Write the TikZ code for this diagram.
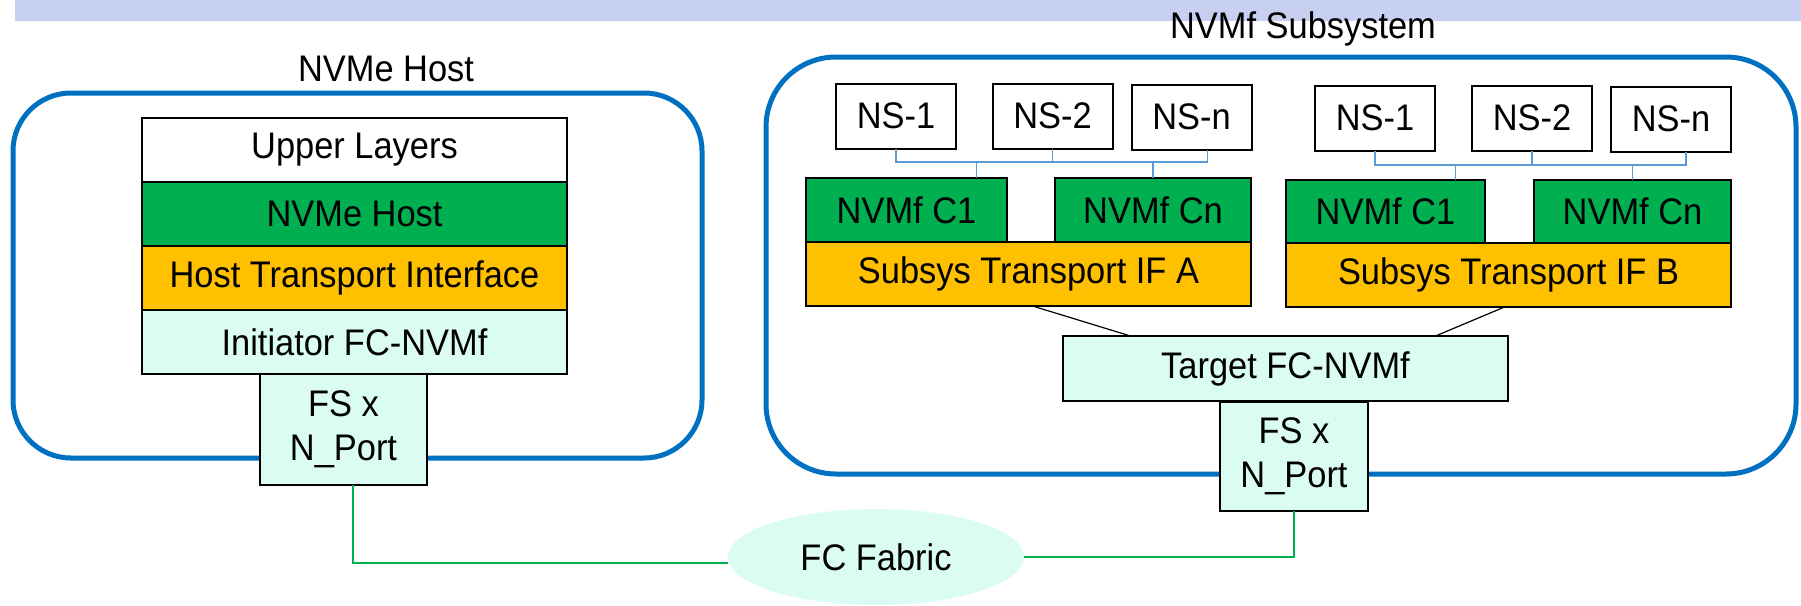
\documentclass[tikz,border=0pt]{standalone}
\usepackage{fontspec}
\setmainfont{Liberation Sans}[FakeStretch=0.93]
\usetikzlibrary{shapes.geometric}
\definecolor{bandlav}{RGB}{200,208,242}
\definecolor{frameblue}{RGB}{0,112,192}
\definecolor{layergreen}{RGB}{0,176,80}
\definecolor{layeramber}{RGB}{255,192,0}
\definecolor{layermint}{RGB}{218,252,242}
\definecolor{linkblue}{RGB}{91,155,213}
\begin{document}
\begin{tikzpicture}[x=1pt,y=-1pt,
  every node/.style={font=\fontsize{37}{44}\selectfont},
  layer/.style={draw=black, line width=2pt, inner sep=0pt, outer sep=0pt, align=center},
  frame/.style={draw=frameblue, line width=5pt},
  nsline/.style={draw=linkblue, line width=1.5pt},
  fabricline/.style={draw=layergreen, line width=1.5pt},
  tieline/.style={draw=black, line width=1.2pt},
  nsbox/.style={layer, fill=white, minimum width=120, minimum height=65},
  ctrl/.style={layer, fill=layergreen, minimum height=64},
  transport/.style={layer, fill=layeramber, minimum height=64},
  fcbox/.style={layer, fill=layermint}]
\useasboundingbox (0,0) rectangle (1801,605);

% header band
\fill[bandlav] (15,0) rectangle (1801,21);

% enclosures
\draw[frame, rounded corners=58] (13,93) rectangle (702,458);
\draw[frame, rounded corners=70] (766,57) rectangle (1796,474);
\node[anchor=base] (hosttitle) at (386,81) {NVMe Host};
\node[anchor=base] (subtitle) at (1303,38) {NVMf Subsystem};

% host stack
\node[layer, fill=white, minimum width=425, minimum height=64] (upper) at (354.5,150) {Upper Layers};
\node[layer, fill=layergreen, minimum width=425, minimum height=64] (nvmehost) at (354.5,214) {NVMe Host};
\node[layer, fill=layeramber, minimum width=425, minimum height=64] (hostif) at (354.5,278) {Host Transport Interface};
\node[fcbox, minimum width=425, minimum height=64] (initiator) at (354.5,342) {Initiator FC-NVMf};
\node[fcbox, minimum width=167, minimum height=111] (fsL) at (343.5,429.5) {FS x\\N\_Port};

% subsystem, side A
\node[nsbox] (nsA1) at (896,116) {NS-1};
\node[nsbox] (nsA2) at (1052.5,116) {NS-2};
\node[nsbox] (nsAn) at (1191.5,117) {NS-n};
\node[ctrl, minimum width=201] (cA1) at (906.5,210) {NVMf C1};
\node[ctrl, minimum width=196] (cAn) at (1153,210) {NVMf Cn};
\node[transport, minimum width=445] (tifA) at (1028.5,274) {Subsys Transport IF A};

% subsystem, side B
\node[nsbox] (nsB1) at (1375,118) {NS-1};
\node[nsbox] (nsB2) at (1532,118) {NS-2};
\node[nsbox] (nsBn) at (1671,119) {NS-n};
\node[ctrl, minimum width=199] (cB1) at (1385.5,211.5) {NVMf C1};
\node[ctrl, minimum width=197] (cBn) at (1632.5,211.5) {NVMf Cn};
\node[transport, minimum width=445] (tifB) at (1508.5,275) {Subsys Transport IF B};

% target side
\node[fcbox, minimum width=445, minimum height=65] (target) at (1285.5,368.5) {Target FC-NVMf};
\node[fcbox, minimum width=148, minimum height=109] (fsR) at (1294,456.5) {FS x\\N\_Port};

% fabric
\node[ellipse, fill=layermint, inner sep=0pt, minimum width=296, minimum height=96] (fabric) at (876,557) {FC Fabric};

% namespace buses
\coordinate (busA) at (0,162);
\coordinate (busB) at (0,165);
\draw[nsline] (nsA1.south) |- ([xshift=16]nsAn.south |- busA) -- ([xshift=16]nsAn.south);
\draw[nsline] (nsA2.south) -- (nsA2.south |- busA);
\draw[nsline] ([xshift=70]cA1.north) -- ([xshift=70]cA1.north |- busA);
\draw[nsline] (cAn.north) -- (cAn.north |- busA);
\draw[nsline] (nsB1.south) |- ([xshift=15]nsBn.south |- busB) -- ([xshift=15]nsBn.south);
\draw[nsline] (nsB2.south) -- (nsB2.south |- busB);
\draw[nsline] ([xshift=70]cB1.north) -- ([xshift=70]cB1.north |- busB);
\draw[nsline] (cBn.north) -- (cBn.north |- busB);

% transports to target
\draw[tieline] ([xshift=4]tifA.south) -- ([xshift=-155]target.north);
\draw[tieline] ([xshift=-4]tifB.south) -- ([xshift=150]target.north);

% fabric links
\draw[fabricline] ([xshift=9.5]fsL.south) |- ([yshift=-6]fabric.west);
\draw[fabricline] (fabric.east) -| (fsR.south);
\end{tikzpicture}
\end{document}
